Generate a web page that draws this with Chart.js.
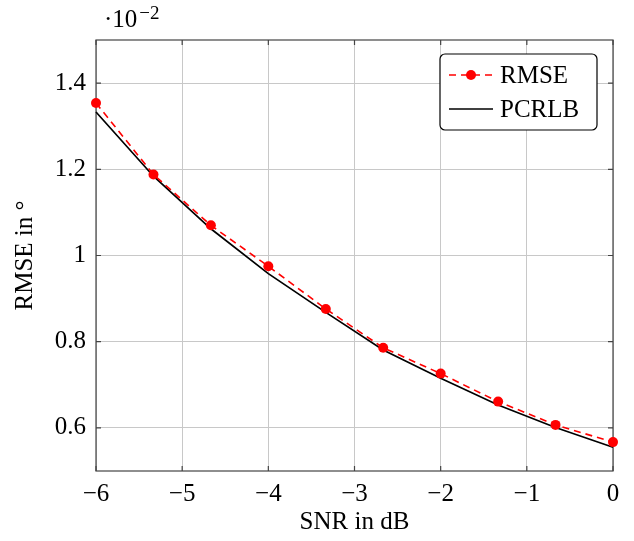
<!DOCTYPE html>
<html>
<head>
<meta charset="utf-8">
<script src="https://cdn.jsdelivr.net/npm/chart.js@4.4.1/dist/chart.umd.min.js"></script>
<style>
  html, body { margin: 0; padding: 0; background: #fff; }
  #wrap { width: 634px; height: 541px; }
</style>
</head>
<body>
<div id="wrap"><canvas id="grafica" width="634" height="541"></canvas></div>
<script>
// SNR en dB (eje x) y valores en unidades de 10^-2
const snr = [-6, -5.333, -4.667, -4, -3.333, -2.667, -2, -1.333, -0.667, 0];
const rmse = [1.354, 1.188, 1.070, 0.975, 0.876, 0.786, 0.726, 0.661, 0.607, 0.567];
const pcrlb = [1.333, 1.184, 1.062, 0.958, 0.868, 0.781, 0.715, 0.653, 0.601, 0.555];
const xTicks = [-6, -5, -4, -3, -2, -1, 0];
const yTicks = [0.6, 0.8, 1, 1.2, 1.4];

const FUENTE = '"Liberation Serif", "Times New Roman", serif';
const fmt = v => (v < 0 ? '\u2212' + Math.abs(v) : String(v));

// Caja del eje, marcas hacia dentro y leyenda estilo pgfplots
const estiloPgf = {
    id: 'estiloPgf',
    beforeDatasetsDraw(chart) {
        const { ctx, chartArea: a, scales } = chart;
        ctx.save();
        ctx.strokeStyle = '#444';
        ctx.lineWidth = 1.2;
        const L = 5;
        ctx.beginPath();
        xTicks.forEach(v => {
            const x = scales.x.getPixelForValue(v);
            ctx.moveTo(x, a.bottom); ctx.lineTo(x, a.bottom - L);
            ctx.moveTo(x, a.top); ctx.lineTo(x, a.top + L);
        });
        yTicks.forEach(v => {
            const y = scales.y.getPixelForValue(v);
            ctx.moveTo(a.left, y); ctx.lineTo(a.left + L, y);
            ctx.moveTo(a.right, y); ctx.lineTo(a.right - L, y);
        });
        ctx.stroke();
        ctx.strokeRect(a.left, a.top, a.right - a.left, a.bottom - a.top);
        ctx.restore();
    },
    afterDraw(chart) {
        const { ctx } = chart;
        ctx.save();
        // multiplicador del eje y
        ctx.fillStyle = '#000';
        ctx.textBaseline = 'alphabetic';
        ctx.font = '25px ' + FUENTE;
        ctx.fillText('\u00b710', 104, 27);
        const w = ctx.measureText('\u00b710').width;
        ctx.font = '19px ' + FUENTE;
        ctx.fillText('\u22122', 104 + w + 2, 19);

        // leyenda
        const bx = 440, by = 54, bw = 157, bh = 76;
        ctx.fillStyle = '#fff';
        ctx.strokeStyle = '#000';
        ctx.lineWidth = 1.2;
        ctx.beginPath();
        ctx.roundRect(bx, by, bw, bh, 5);
        ctx.fill();
        ctx.stroke();

        const filas = [75, 109];
        chart.data.datasets.forEach((ds, i) => {
            const y = filas[i];
            ctx.strokeStyle = ds.borderColor;
            ctx.lineWidth = ds.borderWidth;
            ctx.setLineDash(ds.borderDash || []);
            ctx.beginPath();
            ctx.moveTo(449, y);
            ctx.lineTo(493, y);
            ctx.stroke();
            ctx.setLineDash([]);
            if (ds.pointRadius > 0) {
                ctx.fillStyle = ds.pointBackgroundColor;
                ctx.beginPath();
                ctx.arc(471, y, ds.pointRadius, 0, Math.PI * 2);
                ctx.fill();
            }
            ctx.fillStyle = '#000';
            ctx.font = '25px ' + FUENTE;
            ctx.textBaseline = 'middle';
            ctx.fillText(ds.label, 500, y + 1);
        });
        ctx.restore();
    }
};

const ctx = document.getElementById('grafica').getContext('2d');
const grafica = new Chart(ctx, {
    type: 'line',
    data: {
        datasets: [
            {
                label: 'RMSE',
                data: snr.map((x, i) => ({ x: x, y: rmse[i] })),
                borderColor: '#ff0000',
                borderWidth: 1.6,
                borderDash: [7, 5],
                pointRadius: 5,
                pointHoverRadius: 5,
                pointBackgroundColor: '#ff0000',
                pointBorderWidth: 0,
                clip: false
            },
            {
                label: 'PCRLB',
                data: snr.map((x, i) => ({ x: x, y: pcrlb[i] })),
                borderColor: '#000000',
                borderWidth: 1.7,
                pointRadius: 0,
                clip: false
            }
        ]
    },
    options: {
        responsive: false,
        animation: false,
        devicePixelRatio: 1,
        layout: { padding: { top: 40, right: 21, left: 0, bottom: 0 } },
        plugins: { legend: { display: false }, tooltip: { enabled: false } },
        scales: {
            x: {
                type: 'linear', min: -6, max: 0,
                afterBuildTicks: s => { s.ticks = xTicks.map(v => ({ value: v })); },
                afterFit: s => { s.height = 70; },
                grid: { color: '#c8c8c8', lineWidth: 1, drawTicks: false },
                border: { display: false },
                ticks: { color: '#000', padding: 8, font: { family: FUENTE, size: 25 }, callback: v => fmt(v), maxRotation: 0 },
                title: { display: true, text: 'SNR in dB', color: '#000', font: { family: FUENTE, size: 25 }, padding: { top: 0, bottom: 4 } }
            },
            y: {
                type: 'linear', min: 0.5, max: 1.5,
                afterBuildTicks: s => { s.ticks = yTicks.map(v => ({ value: v })); },
                afterFit: s => { s.width = 96; },
                grid: { color: '#c8c8c8', lineWidth: 1, drawTicks: false },
                border: { display: false },
                ticks: { color: '#000', padding: 10, font: { family: FUENTE, size: 25 }, callback: v => fmt(Math.round(v * 10) / 10) },
                title: { display: true, text: 'RMSE in \u00b0', color: '#000', font: { family: FUENTE, size: 25 }, padding: { top: 10, bottom: 0 } }
            }
        }
    },
    plugins: [estiloPgf]
});
</script>
</body>
</html>
